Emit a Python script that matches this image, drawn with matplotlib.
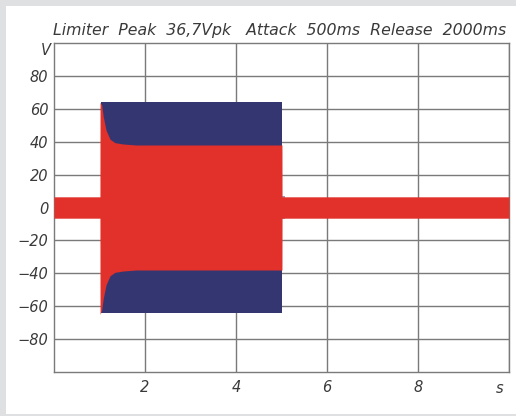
import matplotlib.pyplot as plt
from matplotlib.patches import Rectangle

plt.rcParams['font.family'] = ['DejaVu Sans']

# envelope of the limited output (red) and of the input burst (blue)
red_t = [0.0, 1.01, 1.012, 1.048, 1.083, 1.143, 1.231, 1.341, 1.523, 1.8, 5.01, 5.012, 10.0]
red_hi = [6.5, 6.5, 64, 62.3, 55.2, 47.1, 41.5, 39.4, 38.6, 38.0, 38.0, 6.5, 6.5]
red_lo = [-6.5, -6.5, -65, -62.3, -55.2, -47.1, -41.5, -39.4, -38.6, -38.0, -38.0, -6.5, -6.5]

blue_t = [1.03, 5.01]
blue_hi = [64, 64]
blue_lo = [-64, -64]

tail_t = [5.01, 5.08]
tail_hi = [7.0, 7.0]
tail_lo = [-7.0, -7.0]

x_ticks = [2, 4, 6, 8, 10]
x_labels = ['2', '4', '6', '8', '']
y_ticks = [-80, -60, -40, -20, 0, 20, 40, 60, 80]
y_labels = ['\u221280', '\u221260', '\u221240', '\u221220', '0', '20', '40', '60', '80']

RED = '#e2302a'
BLUE = '#343672'
GRID = '#7a7a7a'
TXT = '#3a3a3a'

fig = plt.figure(figsize=(5.16, 4.16), dpi=100, facecolor='#dfe0e2')
fig.patches.append(Rectangle((6 / 516, 2 / 416), 1, 408 / 416, transform=fig.transFigure,
                             facecolor='white', edgecolor='none', zorder=-5))
ax = fig.add_axes([54 / 516, 44 / 416, 455 / 516, 329 / 416])

ax.fill_between(blue_t, blue_lo, blue_hi, color=BLUE, linewidth=0, zorder=2)
ax.fill_between(tail_t, tail_lo, tail_hi, color=BLUE, alpha=0.5, linewidth=0, zorder=2)
ax.fill_between(red_t, red_lo, red_hi, color=RED, linewidth=0, zorder=3)

ax.set_xlim(0, 10)
ax.set_ylim(-100, 100)
ax.set_xticks(x_ticks)
ax.set_xticklabels(x_labels)
ax.set_yticks(y_ticks)
ax.set_yticklabels(y_labels)
ax.grid(True, color=GRID, linewidth=1.0, zorder=1)
ax.set_axisbelow(True)
ax.tick_params(length=0, pad=4, labelsize=10.5, colors=TXT)
for lab in ax.get_xticklabels() + ax.get_yticklabels():
    lab.set_fontstyle('italic')
ax.tick_params(axis='x', pad=6)
for sp in ax.spines.values():
    sp.set_color(GRID)
    sp.set_linewidth(1.0)

ax.text(-0.006, 1.0, 'V', transform=ax.transAxes, ha='right', va='top',
        fontsize=10.5, style='italic', color=TXT)
ax.text(0.988, -0.027, 's', transform=ax.transAxes, ha='right', va='top',
        fontsize=10.5, style='italic', color=TXT)
fig.text(53 / 516, 1 - 31 / 416, 'Limiter  Peak  36,7Vpk   Attack  500ms  Release  2000ms',
         ha='left', va='center', fontsize=11.3, style='italic', color=TXT)

fig.savefig('out.png', dpi=100, facecolor=fig.get_facecolor())
